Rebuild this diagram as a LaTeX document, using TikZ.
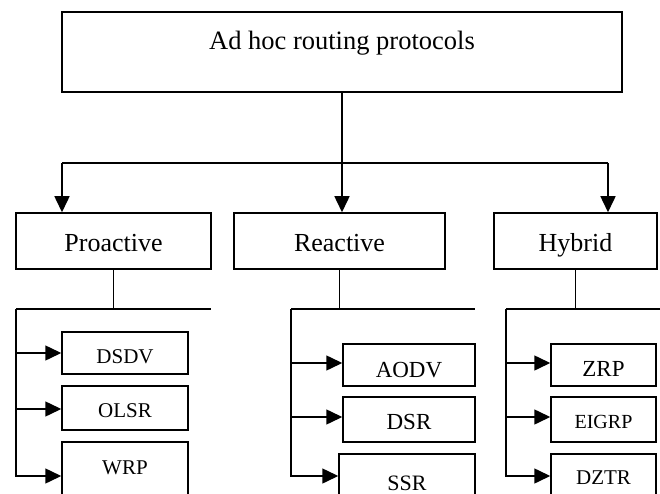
\documentclass[tikz,border=0pt]{standalone}
\usepackage{fontspec}
\setmainfont{Liberation Serif}
\usetikzlibrary{arrows.meta}
\newcommand{\fsz}[1]{\fontsize{#1}{#1}\selectfont}
\begin{document}
\begin{tikzpicture}[x=1pt,y=-1pt,
  box/.style={draw, line width=1.5pt, inner xsep=0pt, inner ysep=0pt, anchor=base},
  wire/.style={line width=1.5pt},
  arr/.style={wire, -{Triangle[length=16pt,width=15pt]}}]
\clip (0,0) rectangle (660,494);

% root
\node[box, minimum width=560pt, text height=38pt, text depth=42pt, font=\fsz{26.5}] (root) at (342,50) {Ad hoc routing protocols};

% protocol classes
\node[box, minimum width=195pt, text height=38pt, text depth=18pt, font=\fsz{26}] (pro) at (113.5,251) {Proactive};
\node[box, minimum width=211pt, text height=38pt, text depth=18pt, font=\fsz{26}] (rea) at (339.5,251) {Reactive};
\node[box, minimum width=163pt, text height=38pt, text depth=18pt, font=\fsz{26}] (hyb) at (575.5,251) {Hybrid};

% proactive protocols
\node[box, minimum width=126pt, text height=31pt, text depth=11pt, font=\fsz{21}] (dsdv) at (125,363) {DSDV};
\node[box, minimum width=126pt, text height=31pt, text depth=13pt, font=\fsz{21}] (olsr) at (125,417) {OLSR};
\node[box, minimum width=126pt, text height=32pt, text depth=40pt, font=\fsz{21}] (wrp) at (125,474) {WRP};

% reactive protocols
\node[box, minimum width=132pt, text height=33pt, text depth=9pt, font=\fsz{23}] (aodv) at (409,377) {AODV};
\node[box, minimum width=132pt, text height=32pt, text depth=13pt, font=\fsz{23}] (dsr) at (409,429) {DSR};
\node[box, minimum width=136pt, text height=36pt, text depth=30pt, font=\fsz{22}] (ssr) at (407,490) {SSR};

% hybrid protocols
\node[box, minimum width=105pt, text height=32pt, text depth=10pt, font=\fsz{23}] (zrp) at (603.5,376) {ZRP};
\node[box, minimum width=105pt, text height=31pt, text depth=14pt, font=\fsz{20}] (eigrp) at (603.5,428) {EIGRP};
\node[box, minimum width=105pt, text height=30pt, text depth=30pt, font=\fsz{21}] (dztr) at (603.5,484) {DZTR};

% root to classes
\coordinate (bl) at (62,163);
\coordinate (bm) at (342,163);
\coordinate (br) at (608,163);
\draw[wire] (root.south) -- (bm);
\draw[wire] (bl) -- (br);
\draw[arr] (bl) -- (bl |- pro.north);
\draw[arr] (bm) -- (bm |- rea.north);
\draw[arr] (br) -- (br |- hyb.north);

% proactive branch
\coordinate (pL) at (16,309);
\coordinate (pR) at (211,309);
\coordinate (pj) at (pro.south |- pL);
\coordinate (p1) at (16,353);
\coordinate (p2) at (16,409);
\coordinate (p3) at (16,476);
\draw[wire] (pro.south) -- (pj);
\draw[wire] (pL) -- (pR);
\draw[arr] (p1) -- (p1 -| dsdv.west);
\draw[arr] (p2) -- (p2 -| olsr.west);
\draw[arr] (pL) -- (p3) -- (p3 -| wrp.west);

% reactive branch
\coordinate (rL) at (291,309);
\coordinate (rR) at (475,309);
\coordinate (rj) at (rea.south |- rL);
\coordinate (r1) at (291,363);
\coordinate (r2) at (291,417);
\coordinate (r3) at (291,476);
\draw[wire] (rea.south) -- (rj);
\draw[wire] (rL) -- (rR);
\draw[arr] (r1) -- (r1 -| aodv.west);
\draw[arr] (r2) -- (r2 -| dsr.west);
\draw[arr] (rL) -- (r3) -- (r3 -| ssr.west);

% hybrid branch
\coordinate (hL) at (506,309);
\coordinate (hR) at (662,309);
\coordinate (hj) at (hyb.south |- hL);
\coordinate (h1) at (506,363);
\coordinate (h2) at (506,417);
\coordinate (h3) at (506,476);
\draw[wire] (hyb.south) -- (hj);
\draw[wire] (hL) -- (hR);
\draw[arr] (h1) -- (h1 -| zrp.west);
\draw[arr] (h2) -- (h2 -| eigrp.west);
\draw[arr] (hL) -- (h3) -- (h3 -| dztr.west);
\end{tikzpicture}
\end{document}
